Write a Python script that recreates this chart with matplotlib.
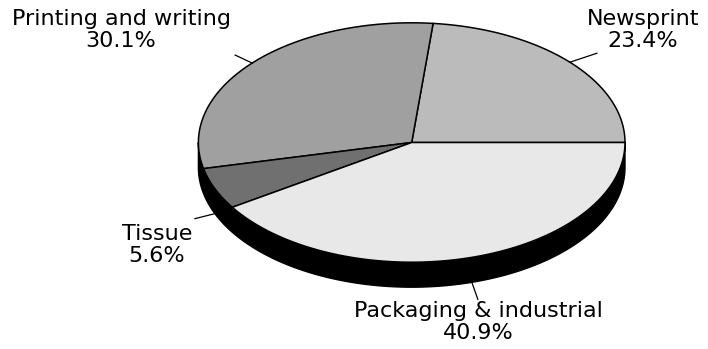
import matplotlib.pyplot as plt
import numpy as np
from matplotlib.patches import Polygon

# data, in drawing order (counter-clockwise from 3 o'clock)
categories = ['Newsprint', 'Printing and writing', 'Tissue', 'Packaging & industrial']
shares = [23.4, 30.1, 5.6, 40.9]
colors = ['#bbbbbb', '#a0a0a0', '#707070', '#e8e8e8']

# layout (pixels)
cx, cy = 411.7, 142.5
rx, ry = 213.3, 119.7
depth = 25
label_pos = [(643, 9), (121, 9), (157, 224), (478, 301)]
leader_off = [(27, -9), (-17, -8), (-20, 5), (6, 17)]

fig = plt.figure(figsize=(7.08, 3.49), dpi=100)
ax = fig.add_axes([0, 0, 1, 1])
ax.set_xlim(0, 708)
ax.set_ylim(349, 0)
ax.axis('off')


def rim(t, dy=0):
    t = np.radians(t)
    return np.column_stack([cx + rx * np.cos(t), cy - ry * np.sin(t) + dy])


# side of the disc (front half only)
t = np.linspace(180, 360, 200)
side = np.vstack([rim(t), rim(t[::-1], depth)])
ax.add_patch(Polygon(side, closed=True, facecolor='black', edgecolor='black', lw=1))

edges = np.concatenate([[0], np.cumsum(shares)]) / sum(shares) * 360
for i, (a0, a1) in enumerate(zip(edges[:-1], edges[1:])):
    arc = rim(np.linspace(a0, a1, 100))
    pts = np.vstack([[cx, cy], arc])
    ax.add_patch(Polygon(pts, closed=True, facecolor=colors[i], edgecolor='black',
                         lw=1.1, joinstyle='round'))

    mid = (a0 + a1) / 2
    dy = depth if 180 < mid < 360 else 0
    sx, sy = rim([mid], dy)[0]
    ox, oy = leader_off[i]
    ax.plot([sx, sx + ox], [sy, sy + oy], color='black', lw=0.9)

    lx, ly = label_pos[i]
    ax.text(lx, ly, f'{categories[i]}\n{shares[i]:.1f}%', ha='center', va='top',
            fontsize=16, linespacing=1.13, family='DejaVu Sans', color='black')

fig.savefig('out.png', dpi=100)
